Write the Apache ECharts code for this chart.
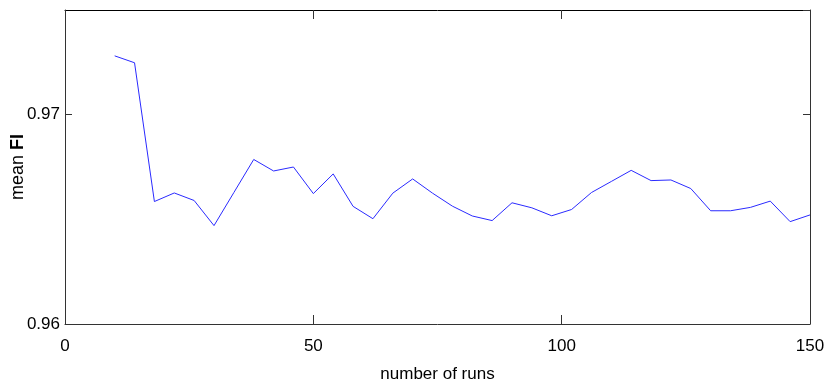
<!DOCTYPE html>
<html>
<head>
<meta charset="utf-8">
<script src="https://cdn.jsdelivr.net/npm/echarts@6/dist/echarts.min.js"></script>
<style>
html,body{margin:0;padding:0;background:#fff;}
#chart{width:824px;height:387px;}
</style>
</head>
<body>
<div id="chart"></div>
<script>
// number of runs (x) and mean FI (y)
var runs = [10,14,18,22,26,30,34,38,42,46,50,54,58,62,66,70,74,78,82,86,90,94,98,102,106,110,114,118,122,126,130,134,138,142,146,150];
var meanFI = [0.97281,0.97248,0.96585,0.96626,0.96590,0.96470,0.96628,0.96786,0.96731,0.96750,
              0.96623,0.96717,0.96562,0.96503,0.96625,0.96693,0.96625,0.96563,0.96516,0.96494,
              0.96579,0.96555,0.96517,0.96547,0.96628,0.96681,0.96734,0.96685,0.96688,0.96647,
              0.96541,0.96541,0.96557,0.96587,0.96489,0.96521];

var pts = [];
for (var i = 0; i < runs.length; i++) {
    pts.push([runs[i], meanFI[i]]);
}

var font = 'Liberation Sans';
var axisCol = '#333';

var myChart = echarts.init(document.getElementById('chart'));
myChart.setOption({
    animation: false,
    grid: {left: 65, right: 14, top: 10, bottom: 63, containLabel: false, outerBoundsMode: 'none'},
    xAxis: [{
        type: 'value',
        min: 0, max: 150, interval: 50,
        position: 'bottom',
        name: 'number of runs',
        nameLocation: 'middle',
        nameGap: 42,
        nameMoveOverlap: false,
        nameTextStyle: {fontFamily: font, fontSize: 17, color: '#000'},
        axisLine: {show: true, lineStyle: {color: axisCol, width: 1}},
        axisTick: {show: true, inside: true, length: 9, lineStyle: {color: axisCol}},
        axisLabel: {fontFamily: font, fontSize: 17, color: '#000', margin: 14},
        splitLine: {show: false}
    }, {
        type: 'value',
        min: 0, max: 150, interval: 50,
        position: 'top',
        axisLine: {show: true, onZero: false, lineStyle: {color: '#000', width: 1}},
        axisTick: {show: true, inside: true, length: 9, lineStyle: {color: axisCol}},
        axisLabel: {show: false},
        splitLine: {show: false}
    }],
    yAxis: [{
        type: 'value',
        min: 0.96, max: 0.975, interval: 0.01,
        position: 'left',
        name: '{n|mean }{b|FI}',
        nameLocation: 'middle',
        nameGap: 38,
        nameMoveOverlap: false,
        nameTextStyle: {
            rich: {
                n: {fontFamily: font, fontSize: 18, color: '#000'},
                b: {fontFamily: font, fontSize: 18, fontWeight: 'bold', color: '#000'}
            }
        },
        axisLine: {show: true, lineStyle: {color: axisCol, width: 1}},
        axisTick: {show: true, inside: true, length: 7, lineStyle: {color: axisCol}},
        axisLabel: {
            fontFamily: font, fontSize: 17, color: '#000', margin: 5,
            padding: [6, 0, 0, 0],
            showMaxLabel: false,
            formatter: function (v) { return v.toFixed(2); }
        },
        splitLine: {show: false}
    }, {
        type: 'value',
        min: 0.96, max: 0.975, interval: 0.01,
        position: 'right',
        axisLine: {show: true, onZero: false, lineStyle: {color: axisCol, width: 1}},
        axisTick: {show: true, inside: true, length: 7, lineStyle: {color: axisCol}},
        axisLabel: {show: false},
        splitLine: {show: false}
    }],
    series: [{
        type: 'line',
        data: pts,
        xAxisIndex: 0,
        yAxisIndex: 0,
        symbol: 'none',
        lineStyle: {color: '#2a2aff', width: 1}
    }]
});
</script>
</body>
</html>
